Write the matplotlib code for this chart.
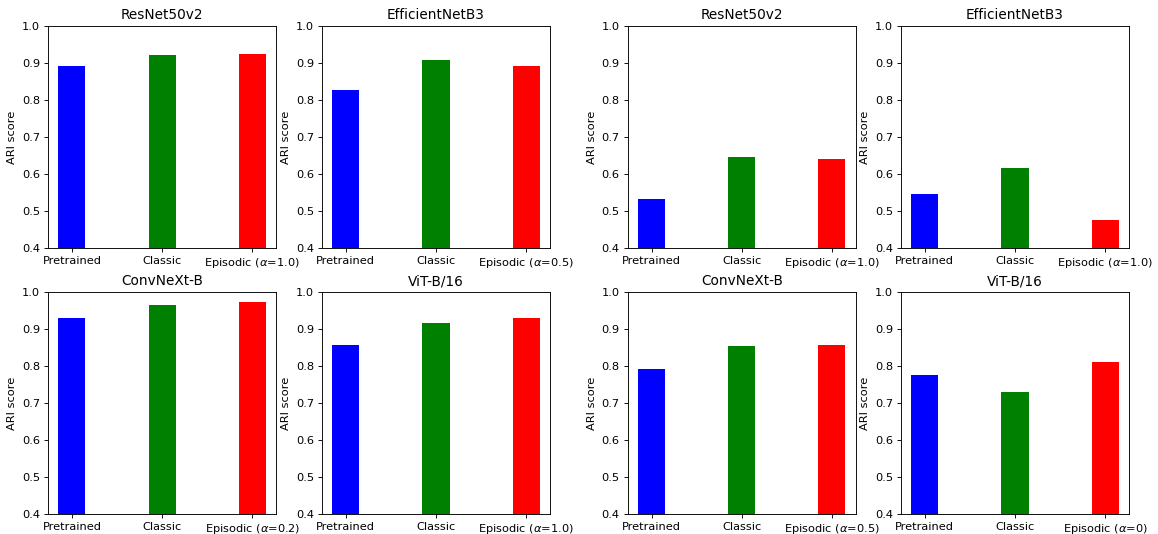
import matplotlib
matplotlib.use('Agg')
from matplotlib import pyplot as plt

methods = ['Pretrained', 'Classic', 'Episodic']
colors = ['blue', 'green', 'red']
models = ['ResNet50v2', 'EfficientNetB3', 'ConvNeXt-B', 'ViT-B/16']

# left group of panels
left_scores = [
    [0.892, 0.921, 0.923],
    [0.827, 0.909, 0.892],
    [0.930, 0.965, 0.972],
    [0.856, 0.915, 0.930],
]
left_alphas = ['1.0', '0.5', '0.2', '1.0']

# right group of panels
right_scores = [
    [0.532, 0.645, 0.640],
    [0.546, 0.615, 0.477],
    [0.793, 0.854, 0.857],
    [0.776, 0.729, 0.811],
]
right_alphas = ['1.0', '1.0', '0.5', '0']

# the original was drawn bigger and scaled down, so use a lower dpi
dpi = 81.5
fig = plt.figure(figsize=(1158 / dpi, 534 / dpi), dpi=dpi)

col_left = [0.0415, 0.278, 0.542, 0.778]
row_bottom = [0.5356, 0.0375]
ax_w = 0.197
ax_h = 0.4157


def draw_panel(ax, title, scores, alpha):
    x = range(len(methods))
    ax.bar(x, scores, width=0.3, color=colors)
    labels = methods[:2] + [r'Episodic ($\alpha$=' + alpha + ')']
    ax.set_xticks(list(x))
    ax.set_xticklabels(labels)
    ax.set_ylim(0.4, 1.0)
    ax.set_ylabel('ARI score')
    ax.set_title(title)


for group, (scores_set, alphas) in enumerate([(left_scores, left_alphas), (right_scores, right_alphas)]):
    for i, model in enumerate(models):
        row = i // 2
        col = group * 2 + i % 2
        ax = fig.add_axes([col_left[col], row_bottom[row], ax_w, ax_h])
        draw_panel(ax, model, scores_set[i], alphas[i])

fig.savefig('out.png', dpi=dpi)
